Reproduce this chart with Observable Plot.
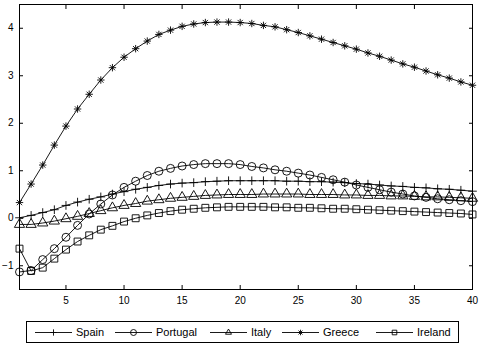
<!DOCTYPE html>
<html>
<head>
<meta charset="utf-8">
<script src="https://cdn.jsdelivr.net/npm/d3@7"></script>
<script src="https://cdn.jsdelivr.net/npm/@observablehq/plot@0.6"></script>
<style>
  html, body { margin: 0; padding: 0; background: #fff; }
  body { font-family: Arial, "Liberation Sans", sans-serif; }
  #wrap { position: relative; width: 479px; height: 347px; overflow: hidden; }
  #chart { position: absolute; left: 0; top: 0; }
  #legend { position: absolute; left: 26px; top: 321px; width: 431px; height: 20px;
            border: 1px solid #000; background: #fff; box-sizing: content-box; }
  .item { position: absolute; top: 0; height: 20px; display: flex; align-items: center;
          font-size: 11px; color: #000; white-space: nowrap; }
  .item svg { display: block; margin-right: 4px; }
</style>
</head>
<body>
<div id="wrap"><div id="chart"></div><div id="legend"></div></div>
<script>
// ---- data ----
const periods = [1,2,3,4,5,6,7,8,9,10,11,12,13,14,15,16,17,18,19,20,
                 21,22,23,24,25,26,27,28,29,30,31,32,33,34,35,36,37,38,39,40];
const xTicks = [5,10,15,20,25,30,35,40];
const yTicks = [-1,0,1,2,3,4];
const countries = ["Spain","Portugal","Italy","Greece","Ireland"];

const spain = [0.01,0.06,0.12,0.18,0.27,0.34,0.40,0.45,0.51,0.56,
               0.61,0.65,0.69,0.72,0.74,0.75,0.77,0.78,0.79,0.79,
               0.79,0.79,0.79,0.78,0.78,0.77,0.77,0.76,0.75,0.73,
               0.72,0.70,0.68,0.67,0.65,0.64,0.62,0.61,0.59,0.57];
const portugal = [-1.13,-1.10,-0.87,-0.64,-0.40,-0.15,0.09,0.30,0.49,0.65,
                  0.78,0.90,0.99,1.05,1.10,1.13,1.15,1.15,1.15,1.13,
                  1.09,1.06,1.02,0.99,0.95,0.91,0.86,0.81,0.76,0.70,
                  0.65,0.60,0.55,0.51,0.47,0.44,0.41,0.39,0.37,0.35];
const italy = [-0.13,-0.13,-0.10,-0.06,-0.01,0.04,0.10,0.16,0.22,0.27,
               0.31,0.36,0.39,0.42,0.44,0.46,0.48,0.49,0.50,0.50,
               0.50,0.51,0.51,0.51,0.51,0.50,0.50,0.50,0.49,0.49,
               0.48,0.48,0.47,0.47,0.46,0.45,0.45,0.44,0.43,0.42];
const greece = [0.33,0.72,1.12,1.54,1.94,2.30,2.61,2.91,3.17,3.39,
                3.57,3.73,3.87,3.96,4.04,4.09,4.12,4.13,4.13,4.12,
                4.10,4.06,4.03,3.97,3.91,3.84,3.77,3.70,3.63,3.56,
                3.48,3.41,3.33,3.25,3.18,3.10,3.02,2.95,2.87,2.80];
const ireland = [-0.64,-1.11,-1.04,-0.85,-0.66,-0.49,-0.36,-0.24,-0.16,-0.07,
                 0.00,0.06,0.11,0.15,0.18,0.20,0.22,0.23,0.24,0.24,
                 0.24,0.24,0.23,0.23,0.22,0.22,0.21,0.20,0.20,0.19,
                 0.18,0.17,0.16,0.15,0.14,0.13,0.12,0.11,0.10,0.08];

// ---- build ----
const seriesValues = {Spain: spain, Portugal: portugal, Italy: italy, Greece: greece, Ireland: ireland};

const asterisk8 = {
  draw(context, size) {
    const r = Math.sqrt(size / Math.PI);
    const d = r * Math.SQRT1_2;
    context.moveTo(-r, 0); context.lineTo(r, 0);
    context.moveTo(0, -r); context.lineTo(0, r);
    context.moveTo(-d, -d); context.lineTo(d, d);
    context.moveTo(-d, d); context.lineTo(d, -d);
  }
};
const markerOf = {
  Spain:    {symbol: "plus",     r: 2.9, d3: d3.symbolPlus},
  Portugal: {symbol: "circle",   r: 4.0, d3: d3.symbolCircle},
  Italy:    {symbol: "triangle", r: 3.8, d3: d3.symbolTriangle2},
  Greece:   {symbol: asterisk8,  r: 3.7, d3: asterisk8},
  Ireland:  {symbol: "square",   r: 3.9, d3: d3.symbolSquare2}
};

const rows = countries.flatMap(c => periods.map((p, i) => ({country: c, period: p, value: seriesValues[c][i]})));

const marks = [
  Plot.line(rows, {x: "period", y: "value", z: "country", stroke: "black", strokeWidth: 0.9}),
  ...countries.map(c => Plot.dot(rows.filter(d => d.country === c), {
    x: "period", y: "value", symbol: markerOf[c].symbol, r: markerOf[c].r,
    stroke: "black", fill: "none", strokeWidth: 0.9
  })),
  Plot.axisX(xTicks, {anchor: "bottom", tickSize: -4, tickPadding: 11, fontSize: 10}),
  Plot.axisX(xTicks, {anchor: "top", tickSize: -4, tickFormat: () => ""}),
  Plot.axisY(yTicks, {anchor: "left", tickSize: -4, tickPadding: 10, fontSize: 10}),
  Plot.axisY(yTicks, {anchor: "right", tickSize: -4, tickFormat: () => ""}),
  Plot.frame({stroke: "black", strokeWidth: 1})
];

const chart = Plot.plot({
  width: 479,
  height: 305,
  marginLeft: 19,
  marginRight: 7,
  marginTop: 4,
  marginBottom: 16,
  x: {domain: [1, 40], label: null},
  y: {domain: [-1.5, 4.5], label: null},
  style: {fontFamily: "Arial, 'Liberation Sans', sans-serif", fontSize: "10px", color: "black", background: "white"},
  marks
});
document.getElementById("chart").appendChild(chart);

// ---- legend ----
const legend = d3.select("#legend");
const itemLeft = {Spain: 8, Portugal: 88, Italy: 183, Greece: 255, Ireland: 349};
countries.forEach(c => {
  const item = legend.append("div").attr("class", "item").style("left", itemLeft[c] + "px");
  const w = 37, h = 20;
  const svg = item.append("svg").attr("width", w).attr("height", h);
  svg.append("line").attr("x1", 0).attr("x2", w).attr("y1", h / 2 + 0.5).attr("y2", h / 2 + 0.5)
     .attr("stroke", "black").attr("stroke-width", 0.9);
  const rr = markerOf[c].r * 0.75;
  svg.append("path")
     .attr("transform", `translate(${w / 2},${h / 2 + 0.5})`)
     .attr("d", d3.symbol(markerOf[c].d3, rr * rr * Math.PI)())
     .attr("fill", "none").attr("stroke", "black").attr("stroke-width", 0.9);
  item.append("span").text(c);
});
</script>
</body>
</html>
